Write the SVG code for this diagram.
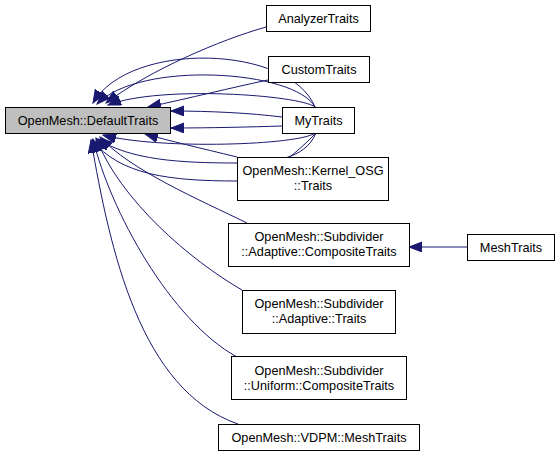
<svg xmlns="http://www.w3.org/2000/svg" width="560" height="456" viewBox="0 0 560 456">
<style>
  .box { fill: #ffffff; stroke: #000000; stroke-width: 1; }
  .root { fill: #bfbfbf; stroke: #000000; stroke-width: 1; }
  .lbl { font-family: "Liberation Sans", Arial, sans-serif; font-size: 12.7px; fill: #000000; text-anchor: middle; }
  .edge { fill: none; stroke: #191970; stroke-width: 1; marker-end: url(#arr); }
</style>
<defs>
  <marker id="arr" markerUnits="userSpaceOnUse" markerWidth="14" markerHeight="11" refX="13" refY="5" orient="auto">
    <path d="M0,0 L13,5 L0,10 z" fill="#191970" stroke="#191970" stroke-width="1"/>
  </marker>
</defs>
<rect width="560" height="456" fill="#ffffff"/>
<g id="connectors">
  <path class="edge" d="M266,27 C220,40 150,70 106,103"/>
  <path class="edge" d="M268,80 C230,88 190,98 148,107"/>
  <path class="edge" d="M315,107 C290,45 130,40 93,103"/>
  <path class="edge" d="M315,107 C295,70 140,60 97,104"/>
  <path class="edge" d="M315,107 C300,95 160,85 108,105"/>
  <path class="edge" d="M282,117 C250,113 210,111 171,111"/>
  <path class="edge" d="M282,126 C250,127 210,128 171,128"/>
  <path class="edge" d="M315,133 C300,145 160,150 103,135"/>
  <path class="edge" d="M316,133 C305,160 270,163 237,163 C180,163 130,160 98,139"/>
  <path class="edge" d="M316,133 C290,160 260,181 237,181 C170,181 120,175 92,140"/>
  <path class="edge" d="M237,157 C200,148 170,141 145,134"/>
  <path class="edge" d="M247,223 C200,200 130,170 100,137"/>
  <path class="edge" d="M242,290 C190,260 120,200 96,138"/>
  <path class="edge" d="M237,357 C170,320 110,210 93,139"/>
  <path class="edge" d="M238,424 C140,390 110,250 91,140"/>
  <path class="edge" d="M467,247 L409,247"/>
</g>
<g id="node-default">
  <rect class="root" x="5.5" y="107.5" width="165" height="26"/>
  <text class="lbl" x="88" y="125">OpenMesh::DefaultTraits</text>
</g>
<g id="node-analyzer">
  <rect class="box" x="266.5" y="5.5" width="104" height="26"/>
  <text class="lbl" x="318.5" y="23">AnalyzerTraits</text>
</g>
<g id="node-custom">
  <rect class="box" x="268.5" y="56.5" width="101" height="26"/>
  <text class="lbl" x="319" y="74">CustomTraits</text>
</g>
<g id="node-mytraits">
  <rect class="box" x="282.5" y="107.5" width="72" height="26"/>
  <text class="lbl" x="318.5" y="125">MyTraits</text>
</g>
<g id="node-kernel">
  <rect class="box" x="237.5" y="157.5" width="151" height="43"/>
  <text class="lbl" x="313" y="175">OpenMesh::Kernel_OSG</text>
  <text class="lbl" x="313" y="190">::Traits</text>
</g>
<g id="node-adaptive-composite">
  <rect class="box" x="228.5" y="223.5" width="181" height="43"/>
  <text class="lbl" x="319" y="241">OpenMesh::Subdivider</text>
  <text class="lbl" x="319" y="256">::Adaptive::CompositeTraits</text>
</g>
<g id="node-meshtraits">
  <rect class="box" x="467.5" y="234.5" width="87" height="26"/>
  <text class="lbl" x="511" y="252">MeshTraits</text>
</g>
<g id="node-adaptive-traits">
  <rect class="box" x="242.5" y="290.5" width="153" height="43"/>
  <text class="lbl" x="319" y="308">OpenMesh::Subdivider</text>
  <text class="lbl" x="319" y="323">::Adaptive::Traits</text>
</g>
<g id="node-uniform">
  <rect class="box" x="231.5" y="356.5" width="175" height="43"/>
  <text class="lbl" x="319" y="375">OpenMesh::Subdivider</text>
  <text class="lbl" x="319" y="390">::Uniform::CompositeTraits</text>
</g>
<g id="node-vdpm">
  <rect class="box" x="218.5" y="424.5" width="201" height="26"/>
  <text class="lbl" x="319" y="442">OpenMesh::VDPM::MeshTraits</text>
</g>
</svg>
